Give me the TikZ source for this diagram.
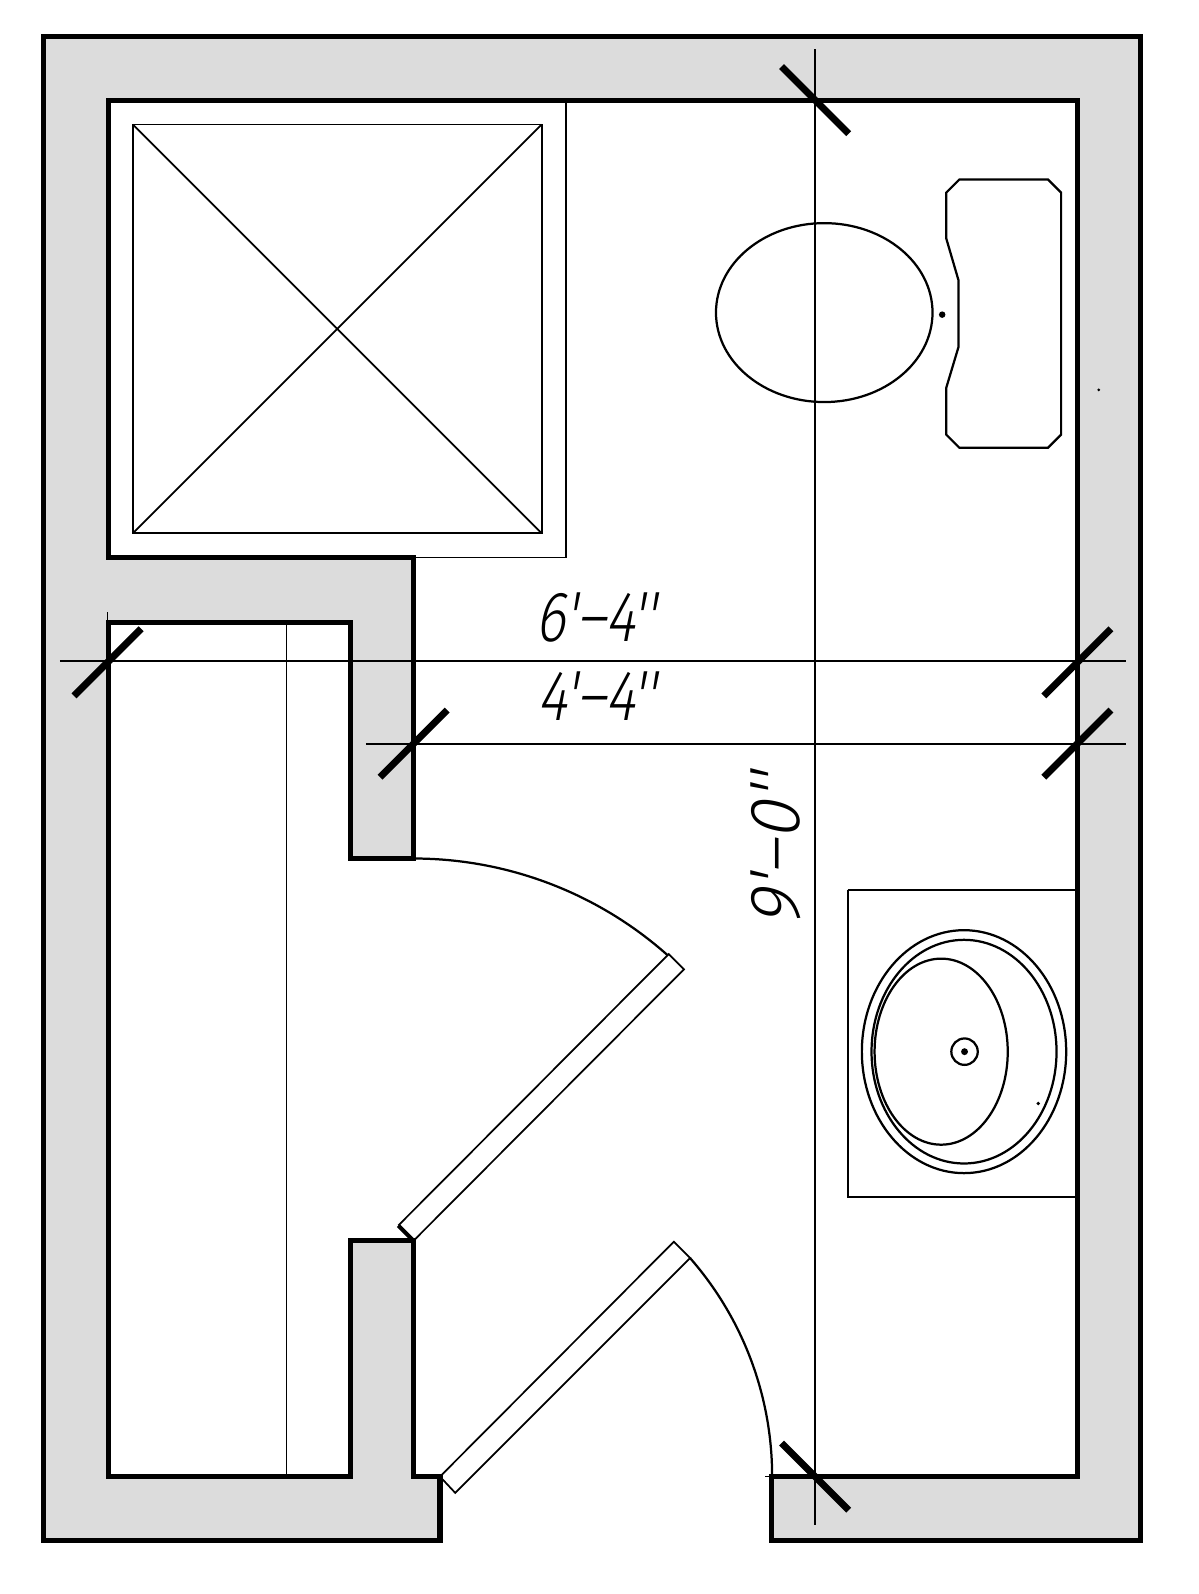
\documentclass[tikz,border=0pt]{standalone}
\usepackage{fontspec}
\usepackage{graphicx}
\newfontfamily\handfont[FakeSlant=0.18,FakeStretch=0.8]{Fira Sans Light}
\definecolor{wallgray}{HTML}{DCDCDC}
\begin{document}
\begin{tikzpicture}[
  x=0.5pt, y=-0.5pt,
  wall/.style={draw, fill=wallgray, line width=2.5pt, line join=miter},
  fixture/.style={draw, line width=1.1pt},
  thinline/.style={draw, line width=0.85pt},
  dimline/.style={draw, line width=1pt},
  tickmark/.style={draw, line width=3.4pt},
  dimlabel/.style={font=\handfont\fontsize{35}{35}\selectfont, inner sep=0pt}
]
\useasboundingbox (-0.8,-0.5) rectangle (1177.7,1567.5);
% walls
\path[wall] (406,1452) -- (432,1452) -- (432,1515) -- (42,1515) -- (42,35) -- (1121,35)
  -- (1121,1515) -- (758,1515) -- (758,1452) -- (1059,1452) -- (1059,98) -- (106,98)
  -- (106,548) -- (406,548) -- (406,844) -- (344,844) -- (344,612) -- (106,612)
  -- (106,1452) -- (344,1452) -- (344,1220) -- (406,1220) -- cycle;
\draw[thinline] (105,602) -- (105,612);
\draw[thinline] (752,1452) -- (758,1452);
% shower
\draw[thinline] (106,548) -- (556,548) -- (556,98);
\draw[thinline] (130,122) rectangle (532,524);
\draw[thinline] (130,122) -- (532,524);
\draw[thinline] (130,524) -- (532,122);
% closet shelf
\draw[thinline] (281,612) -- (281,1452);
% toilet
\draw[fixture] (810,307) ellipse (106.5 and 88);
\fill (926,309) circle (3.2);
\draw[fixture] (943,176) -- (1030,176) -- (1043,189) -- (1043,427) -- (1030,440) -- (943,440)
  -- (930,427) -- (930,381) -- (942,341) -- (942,275) -- (930,234) -- (930,189) -- cycle;
\fill (1080,383) circle (1.5);
% sink
\draw[fixture] (833,875) -- (833,1177) -- (1057,1177);
\draw[fixture] (833,875) -- (1057,875);
\draw[fixture] (947.5,1034) ellipse (100.5 and 119.5);
\draw[fixture] (947.5,1034) ellipse (91 and 110);
\draw[fixture] (925,1034) ellipse (65.5 and 91.5);
\draw[fixture] (948,1034) circle (13);
\fill (948,1034) circle (3.4);
\fill (1020.5,1085) circle (1.9);
% doors
\draw[fixture] (406,844) arc (-90:-48.3:376);
\draw[thinline] (406,1220) -- (672,953) -- (657,938) -- (391,1205);
\draw[line width=2pt] (391,1205) -- (406,1220);
\draw[fixture] (678,1237) arc (-41.2:0:326);
\draw[thinline] (432,1452) -- (447,1468) -- (678,1237) -- (662,1221) -- cycle;
% dimension lines
\draw[dimline] (801,48) -- (801,1500);
\draw[dimline] (58,650) -- (1107,650);
\draw[dimline] (359,731) -- (1107,731);
\foreach \tx/\ty in {105/651, 1059/651, 1059/731, 406/731}
  \draw[tickmark] (\tx-33,\ty+33) -- (\tx+33,\ty-33);
\foreach \tx/\ty in {801/98, 801/1452}
  \draw[tickmark] (\tx-33,\ty-33) -- (\tx+33,\ty+33);
% labels
\node[dimlabel] (dimSix) at (585,607) {6'–4''};
\node[dimlabel] (dimFour) at (586,684) {4'–4''};
\node[dimlabel, rotate=90] (dimNine) at (762,836) {\scalebox{1.22}[1]{9'–0''}};
\end{tikzpicture}
\end{document}
